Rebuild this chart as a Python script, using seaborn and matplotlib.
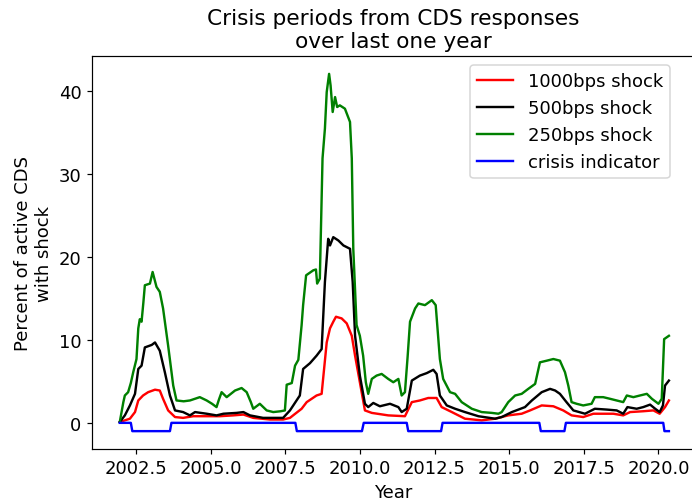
import matplotlib
matplotlib.use("Agg")
import matplotlib.pyplot as plt
import pandas as pd
import seaborn as sns

# values (year, percent)
years_1000 = [2001.96, 2002.30, 2002.47, 2002.58, 2002.74, 2002.91, 2003.14, 2003.30, 2003.41, 2003.58,
              2003.81, 2004.08, 2004.42, 2004.87, 2005.31, 2005.76, 2006.10, 2006.43, 2006.99, 2007.43,
              2007.66, 2007.80, 2008.05, 2008.22, 2008.55, 2008.72, 2008.89, 2009.00, 2009.11, 2009.20,
              2009.39, 2009.56, 2009.73, 2009.84, 2010.00, 2010.17, 2010.40, 2010.95, 2011.51, 2011.74,
              2012.01, 2012.29, 2012.57, 2012.74, 2013.08, 2013.52, 2014.08, 2014.53, 2014.97, 2015.42,
              2015.70, 2016.09, 2016.48, 2016.81, 2017.09, 2017.48, 2017.82, 2018.49, 2018.82, 2019.05,
              2019.49, 2019.83, 2020.04, 2020.22, 2020.35]
shock_1000 = [0.1, 0.5, 1.3, 2.7, 3.3, 3.7, 4.0, 3.9, 2.9, 1.5,
              0.7, 0.6, 0.8, 0.8, 0.8, 0.9, 1.0, 0.6, 0.4, 0.4,
              0.6, 1.0, 1.7, 2.5, 3.3, 3.5, 9.7, 11.4, 12.2, 12.8,
              12.6, 12.0, 10.5, 8.1, 4.9, 1.5, 1.2, 0.9, 0.8, 2.5,
              2.7, 3.0, 3.0, 1.9, 1.3, 0.5, 0.3, 0.5, 0.9, 1.1,
              1.5, 2.1, 2.0, 1.5, 0.9, 0.7, 1.1, 1.1, 0.9, 1.3,
              1.4, 1.5, 1.1, 1.9, 2.7]

years_500 = [2001.96, 2002.13, 2002.30, 2002.47, 2002.58, 2002.69, 2002.80, 2003.03, 2003.14, 2003.30,
             2003.47, 2003.64, 2003.81, 2004.08, 2004.31, 2004.48, 2004.87, 2005.20, 2005.43, 2005.87,
             2006.10, 2006.32, 2006.76, 2007.43, 2007.66, 2007.88, 2007.99, 2008.10, 2008.33, 2008.55,
             2008.72, 2008.83, 2008.94, 2009.00, 2009.11, 2009.28, 2009.45, 2009.67, 2009.76, 2009.84,
             2010.00, 2010.17, 2010.28, 2010.45, 2010.67, 2011.01, 2011.29, 2011.40, 2011.57, 2011.74,
             2012.01, 2012.24, 2012.46, 2012.57, 2012.68, 2012.91, 2013.19, 2013.52, 2013.97, 2014.53,
             2014.75, 2015.09, 2015.53, 2015.76, 2016.09, 2016.37, 2016.54, 2016.70, 2016.92, 2017.15,
             2017.54, 2017.87, 2018.27, 2018.60, 2018.82, 2018.96, 2019.27, 2019.49, 2019.72, 2019.89,
             2020.04, 2020.15, 2020.22, 2020.35]
shock_500 = [0.1, 0.9, 2.1, 3.5, 6.5, 6.9, 9.1, 9.4, 9.7, 8.7,
             6.1, 3.3, 1.5, 1.3, 0.9, 1.3, 1.1, 0.9, 1.1, 1.2,
             1.3, 0.9, 0.6, 0.6, 1.5, 2.7, 3.3, 6.5, 7.2, 8.1,
             8.9, 17.0, 22.2, 21.4, 22.4, 22.0, 21.4, 21.0, 17.0, 10.5,
             5.7, 2.3, 1.9, 2.4, 2.0, 2.3, 1.9, 1.3, 1.7, 5.1,
             5.7, 6.0, 6.4, 5.9, 3.3, 2.1, 1.7, 1.3, 0.8, 0.5,
             0.7, 1.3, 1.9, 2.7, 3.7, 4.1, 3.9, 3.5, 2.5, 1.5,
             1.1, 1.7, 1.6, 1.5, 1.1, 1.9, 1.7, 1.9, 2.2, 1.7,
             1.3, 2.1, 4.5, 5.1]

years_250 = [2001.96, 2002.08, 2002.13, 2002.24, 2002.33, 2002.41, 2002.52, 2002.58, 2002.63, 2002.69,
             2002.75, 2002.80, 2002.97, 2003.06, 2003.19, 2003.30, 2003.41, 2003.58, 2003.75, 2003.86,
             2004.10, 2004.31, 2004.64, 2004.87, 2005.05, 2005.20, 2005.28, 2005.37, 2005.54, 2005.82,
             2006.04, 2006.21, 2006.35, 2006.43, 2006.65, 2006.88, 2007.10, 2007.35, 2007.49, 2007.55,
             2007.72, 2007.83, 2007.94, 2008.05, 2008.10, 2008.20, 2008.44, 2008.53, 2008.57, 2008.66,
             2008.75, 2008.83, 2008.89, 2008.97, 2009.02, 2009.09, 2009.17, 2009.24, 2009.33, 2009.50,
             2009.67, 2009.73, 2009.78, 2009.84, 2009.89, 2010.00, 2010.11, 2010.20, 2010.28, 2010.40,
             2010.56, 2010.73, 2010.95, 2011.12, 2011.29, 2011.40, 2011.51, 2011.60, 2011.68, 2011.85,
             2011.96, 2012.18, 2012.41, 2012.54, 2012.68, 2012.79, 2013.02, 2013.19, 2013.41, 2013.75,
             2014.08, 2014.42, 2014.64, 2014.75, 2014.97, 2015.20, 2015.42, 2015.64, 2015.87, 2016.03,
             2016.26, 2016.48, 2016.70, 2016.87, 2016.98, 2017.09, 2017.26, 2017.48, 2017.76, 2017.87,
             2018.15, 2018.38, 2018.60, 2018.82, 2018.94, 2019.16, 2019.38, 2019.61, 2019.78, 2020.00,
             2020.11, 2020.19, 2020.35]
shock_250 = [0.1, 2.5, 3.3, 3.7, 4.8, 6.1, 7.7, 11.4, 12.5, 12.2,
             14.5, 16.6, 16.8, 18.2, 16.4, 15.8, 13.8, 9.3, 4.5, 2.7,
             2.6, 2.7, 3.1, 2.7, 2.3, 1.9, 2.8, 3.7, 3.1, 3.9,
             4.2, 3.7, 2.5, 1.7, 2.3, 1.5, 1.3, 1.4, 1.5, 4.6,
             4.8, 6.9, 7.6, 11.8, 14.2, 17.8, 18.4, 18.5, 16.8, 17.4,
             31.9, 35.5, 39.9, 42.1, 40.7, 37.5, 39.3, 38.1, 38.3, 37.9,
             36.3, 31.9, 21.0, 16.0, 11.8, 10.5, 8.1, 4.9, 3.5, 5.3,
             5.7, 5.9, 5.3, 4.9, 5.3, 3.3, 3.7, 8.0, 12.2, 13.8,
             14.4, 14.2, 14.8, 14.2, 7.7, 5.3, 3.7, 3.5, 2.5, 1.7,
             1.3, 1.2, 1.1, 1.3, 2.5, 3.3, 3.5, 4.1, 4.7, 7.3,
             7.5, 7.7, 7.5, 6.1, 4.5, 2.5, 2.3, 2.1, 2.3, 3.1,
             3.1, 2.9, 2.7, 2.5, 3.3, 3.1, 3.3, 3.5, 2.9, 2.3,
             2.9, 10.1, 10.5]

years_crisis = [2001.96, 2002.33, 2002.38, 2003.64, 2003.69, 2007.84, 2007.89, 2010.07, 2010.13, 2011.57,
                2011.62, 2012.72, 2012.77, 2016.01, 2016.06, 2016.85, 2016.90, 2020.16, 2020.20, 2020.35]
crisis = [0, 0, -1, -1, 0, 0, -1, -1, 0, 0,
          -1, -1, 0, 0, -1, -1, 0, 0, -1, -1]

labels = ["1000bps shock", "500bps shock", "250bps shock", "crisis indicator"]
colors = ["red", "black", "green", "blue"]

frames = []
for name, xs, ys in zip(labels,
                        [years_1000, years_500, years_250, years_crisis],
                        [shock_1000, shock_500, shock_250, crisis]):
    frames.append(pd.DataFrame({"year": xs, "pct": ys, "series": name}))
df = pd.concat(frames, ignore_index=True)

plt.rcParams["font.family"] = ["DejaVu Sans"]
plt.rcParams["font.size"] = 12

fig = plt.figure(figsize=(692 / 108, 505 / 108), dpi=108)
ax = fig.add_axes([92 / 692, 55 / 505, (694 - 92) / 692, (450 - 57) / 505])

sns.lineplot(data=df, x="year", y="pct", hue="series", hue_order=labels,
             palette=dict(zip(labels, colors)), estimator=None, linewidth=1.6, ax=ax)

ax.set_xlim(2001.03, 2021.19)
ax.set_ylim(-3.155, 44.255)
ax.set_xticks([2002.5, 2005.0, 2007.5, 2010.0, 2012.5, 2015.0, 2017.5, 2020.0])
ax.set_xlabel("Year")
ax.set_ylabel("Percent of active CDS\nwith shock")
ax.set_title("Crisis periods from CDS responses\nover last one year", fontsize=14.4)
ax.legend(loc="upper right", bbox_to_anchor=(0.975, 1.0), fontsize=12)

fig.savefig("out.png", dpi=108)
plt.close(fig)
